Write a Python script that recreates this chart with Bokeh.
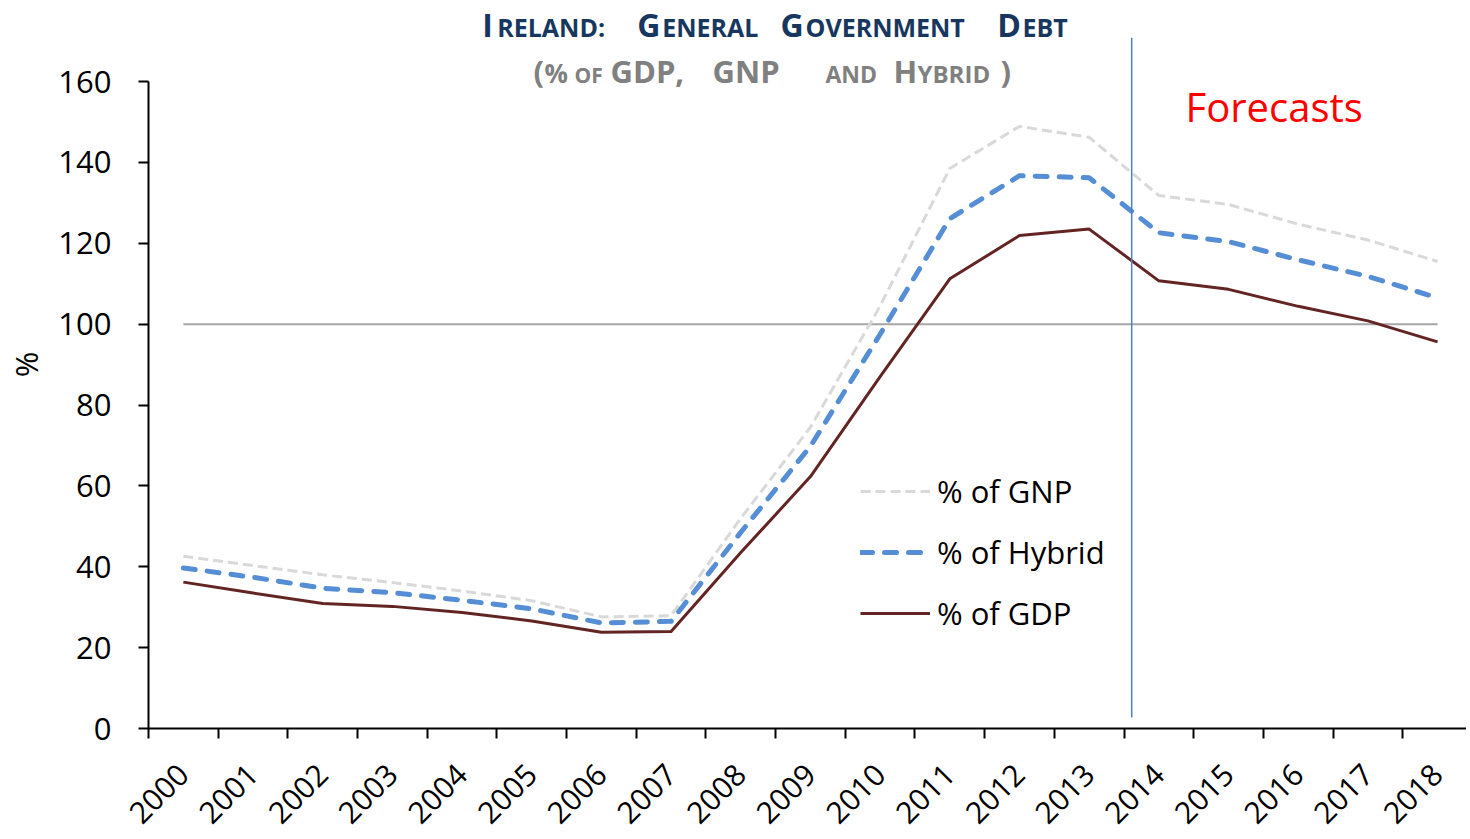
import math
from bokeh.plotting import figure
from bokeh.models import Range1d, LinearAxis, FixedTicker, Label, Legend, LegendItem
from bokeh.embed import file_html
from bokeh.resources import INLINE

# ---------------- data ----------------
years = [str(y) for y in range(2000, 2019)]
gdp = [36.2, 33.5, 30.9, 30.2, 28.7, 26.6, 23.8, 24.0, 43.5, 62.3, 87.0,
       111.2, 121.9, 123.5, 110.7, 108.6, 104.4, 100.8, 95.6]
hybrid = [39.7, 37.4, 34.7, 33.6, 31.7, 29.6, 26.1, 26.5, 48.5, 69.8, 97.5,
          126.1, 136.7, 136.2, 122.6, 120.4, 115.9, 111.8, 106.5]
gnp = [42.6, 40.3, 38.0, 36.1, 34.0, 31.6, 27.6, 27.9, 52.0, 74.5, 104.5,
       138.5, 148.9, 146.2, 131.8, 129.6, 124.7, 120.8, 115.5]
threshold = 100
forecast_start = "2014"
y_ticks = [0, 20, 40, 60, 80, 100, 120, 140, 160]

idx = list(range(len(years)))

# ---------------- figure ----------------
W, H = 1466, 838
LEFT, BOTTOM = 148, 110
frame_w = W - LEFT
cat_px = 69.68
x_end = -0.5 + frame_w / cat_px
frame_h = H - BOTTOM
y_end = frame_h / 4.04375

p = figure(width=W, height=H, x_range=Range1d(-0.5, x_end), y_range=Range1d(0, y_end),
           x_axis_type=None, y_axis_type=None, output_backend="svg", toolbar_location=None,
           min_border_left=LEFT, min_border_right=0, min_border_top=0, min_border_bottom=BOTTOM)
p.outline_line_color = None
p.background_fill_color = "white"
p.border_fill_color = "white"

FONT = "Open Sans"

# y axis
yaxis = LinearAxis(ticker=FixedTicker(ticks=y_ticks), bounds=(0, 160),
                   major_tick_out=10, major_tick_in=0, minor_tick_line_color=None,
                   axis_line_width=2, major_tick_line_width=2,
                   axis_line_color="black", major_tick_line_color="black",
                   major_label_text_font=FONT, major_label_text_font_size="31px",
                   major_label_standoff=27, major_label_text_color="black")
p.add_layout(yaxis, "left")

# y axis title "%" (separate bare axis so it sits where the reference has it)
pct_axis = LinearAxis(ticker=FixedTicker(ticks=[]), bounds=(24, 160), axis_label="%",
                      axis_line_color=None, major_tick_line_color=None, minor_tick_line_color=None,
                      major_tick_out=0, major_tick_in=0, major_label_standoff=0,
                      axis_label_standoff=9, axis_label_text_font=FONT,
                      axis_label_text_font_size="31px", axis_label_text_font_style="normal",
                      axis_label_text_color="black")
p.add_layout(pct_axis, "left")

# x axis: labels at category centres, tick marks between categories (minor ticks)
xaxis = LinearAxis(ticker=FixedTicker(ticks=idx, minor_ticks=[i - 0.5 for i in range(len(years) + 1)]),
                   major_label_overrides={i: y for i, y in enumerate(years)},
                   major_tick_line_color=None, major_tick_out=0, major_tick_in=0,
                   minor_tick_out=10, minor_tick_in=0, minor_tick_line_width=2,
                   minor_tick_line_color="black",
                   axis_line_width=2, axis_line_color="black",
                   major_label_orientation=math.pi / 4,
                   major_label_text_font=FONT, major_label_text_font_size="30px",
                   major_label_text_color="black", major_label_standoff=31)
p.add_layout(xaxis, "below")

# 100% reference line
p.line(idx, [threshold] * len(idx), line_color="#a6a6a6", line_width=2)

r_gnp = p.line(idx, gnp, line_color="#d9d9d9", line_width=3, line_dash="10 5")
r_hyb = p.line(idx, hybrid, line_color="#558ed5", line_width=5, line_dash="12 12",
               line_cap="round", line_join="round")
r_gdp = p.line(idx, gdp, line_color="#632523", line_width=3, line_join="round")

# forecast divider
xb = years.index(forecast_start) - 0.39
p.segment(x0=[xb], y0=[2.7], x1=[xb], y1=[170.8], line_color="#4f81bd", line_width=1.5)

legend = Legend(items=[LegendItem(label="% of GNP", renderers=[r_gnp]),
                       LegendItem(label="% of Hybrid", renderers=[r_hyb]),
                       LegendItem(label="% of GDP", renderers=[r_gdp])],
                location=(712, 94), glyph_width=70, glyph_height=40, label_height=40,
                spacing=19, padding=0, margin=0, label_standoff=7,
                border_line_color=None, background_fill_alpha=0,
                label_text_font=FONT, label_text_font_size="31px", label_text_color="black")
p.add_layout(legend)

# ---------------- texts ----------------
FX, FY = LEFT, H - BOTTOM  # picture position of frame's bottom-left


def add_text(text, px, py, size, color, bold=False):
    # empirical correction: rendered baseline sits ~0.4*size below the requested one
    py_adj = py - 0.4 * size
    p.add_layout(Label(x=px - FX, y=FY - py_adj, x_units="screen", y_units="screen", text=text,
                       text_font=FONT, text_font_size=f"{size}px", text_color=color,
                       text_font_style="bold" if bold else "normal",
                       text_align="left", text_baseline="alphabetic"))


TITLE_C = "#17375e"
SUB_C = "#808080"
BIG, SMALL = 32, 25
title_parts = [("I", 481.7, BIG), ("RELAND:", 496.7, SMALL), ("G", 636.7, BIG), ("ENERAL", 661.7, SMALL),
               ("G", 780, BIG), ("OVERNMENT", 805, SMALL), ("D", 996.7, BIG), ("EBT", 1022, SMALL)]
for t, px, s in title_parts:
    add_text(t, px, 36.7, s, TITLE_C, bold=True)

SBIG = 31
sub_parts = [("(", 533, SBIG), ("%", 544, 26), ("OF", 574, 21), ("GDP,", 610, SBIG),
             ("GNP", 712, SBIG), ("AND", 825, 23), ("H", 893, SBIG), ("YBRID", 917, 24),
             (")", 1000, SBIG)]
for t, px, s in sub_parts:
    add_text(t, px, 82.5, s, SUB_C, bold=True)

add_text("Forecasts", 1185, 121.7, 40, "#ff0000")

open("out.html", "w").write(file_html(p, INLINE))
